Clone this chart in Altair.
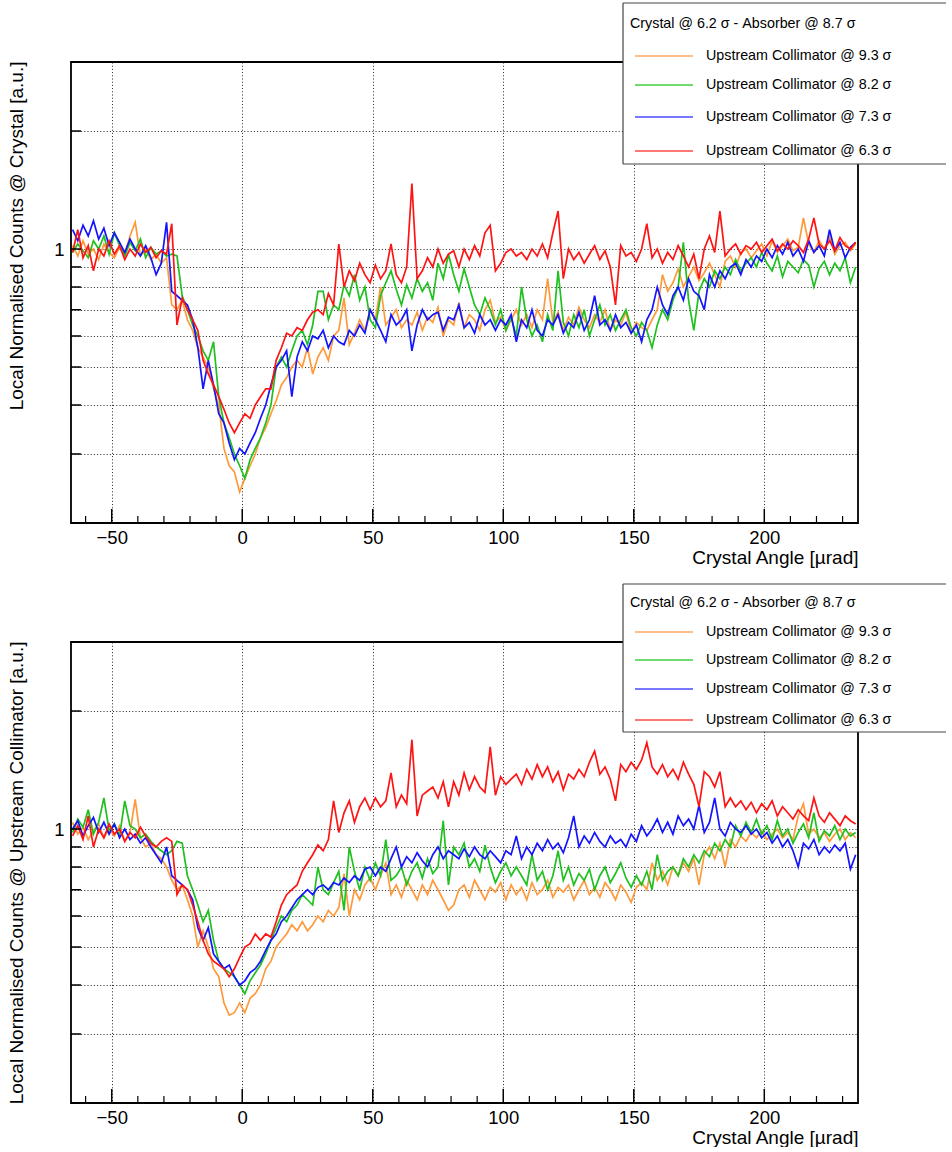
import altair as alt
import pandas as pd

# ---------------- data ----------------
angle = list(range(-65, 236, 2))  # crystal angle bin centres [urad]

series_names = [
    "Upstream Collimator @ 9.3 σ",
    "Upstream Collimator @ 8.2 σ",
    "Upstream Collimator @ 7.3 σ",
    "Upstream Collimator @ 6.3 σ",
]
line_colors = ["#ff9a3c", "#1fc01f", "#1414ff", "#ff1414"]
legend_colors = ["#ffaa60", "#40d040", "#4a4aff", "#ff4a4a"]
legend_header = "Crystal @ 6.2 σ - Absorber @ 8.7 σ"

x_major = [-50, 0, 50, 100, 150, 200]
x_minor = [-60, -40, -30, -20, -10, 10, 20, 30, 40, 60, 70, 80, 90, 110, 120, 130, 140,
           160, 170, 180, 190, 210, 220, 230]
y_grid = [0.3, 0.4, 0.5, 0.6, 0.7, 0.8, 0.9, 1, 2]

# ---- top panel: normalised to counts at crystal ----
p1_orange = (
    [1.02, 0.96, 1.05, 0.97, 1.00, 0.94, 1.03, 0.98, 0.95, 1.01, 0.97, 1.08, 1.17, 0.96, 1.00, 0.94, 0.97, 0.92, 0.95]
    + [0.72, 0.70, 0.74, 0.66, 0.62, 0.56, 0.53, 0.50, 0.44, 0.40, 0.31, 0.28, 0.27, 0.24, 0.26, 0.28, 0.30, 0.33, 0.35, 0.38, 0.41]
    + [0.45, 0.47, 0.50, 0.52, 0.50, 0.56, 0.48, 0.53, 0.56, 0.52, 0.60, 0.62, 0.75, 0.57, 0.61, 0.66, 0.62, 0.70, 0.66, 0.80, 0.64]
    + [0.67, 0.70, 0.63, 0.66, 0.64, 0.69, 0.62, 0.67, 0.65, 0.71, 0.60, 0.66, 0.64, 0.73, 0.63, 0.68, 0.66, 0.62, 0.70, 0.74, 0.65, 0.67, 0.62, 0.66, 0.70]
    + [0.64, 0.68, 0.63, 0.70, 0.66, 0.84, 0.65, 0.69, 0.62, 0.67, 0.64, 0.71, 0.66, 0.63, 0.68, 0.65, 0.70, 0.62, 0.66, 0.64, 0.69, 0.61, 0.65, 0.63, 0.62]
    + [0.66, 0.70, 0.86, 0.78, 0.82, 0.89, 0.80, 0.85, 0.90, 0.83, 0.87, 0.92, 0.86, 0.80, 0.93, 0.96, 0.90, 0.98, 1.00, 0.95]
    + [0.99, 1.03, 0.96, 1.05, 0.98, 1.02, 1.06, 0.99, 1.01, 1.20, 1.03, 0.98, 1.05, 1.00, 1.08, 0.97, 1.02, 1.04, 0.99, 1.03]
)
p1_green = (
    [0.98, 1.03, 0.99, 0.95, 1.05, 1.00, 1.08, 0.97, 1.10, 1.02, 0.96, 1.04, 0.99, 1.06, 0.95, 1.01, 0.97, 0.99, 0.96]
    + [0.97, 0.96, 0.76, 0.70, 0.64, 0.60, 0.55, 0.52, 0.58, 0.42, 0.36, 0.33, 0.30, 0.28, 0.26, 0.29, 0.31, 0.33, 0.36, 0.40, 0.50]
    + [0.53, 0.50, 0.55, 0.60, 0.62, 0.57, 0.64, 0.78, 0.78, 0.66, 0.72, 0.70, 0.81, 0.76, 0.86, 0.74, 0.80, 0.66, 0.63, 0.76, 0.82]
    + [0.88, 0.79, 0.72, 0.81, 0.75, 0.84, 0.78, 0.82, 0.74, 0.92, 0.84, 0.97, 0.86, 0.78, 0.89, 0.80, 0.72, 0.68, 0.75, 0.70, 0.64, 0.70, 0.62, 0.67, 0.60]
    + [0.80, 0.66, 0.60, 0.64, 0.58, 0.68, 0.62, 0.88, 0.65, 0.60, 0.68, 0.63, 0.70, 0.60, 0.66, 0.72, 0.64, 0.68, 0.62, 0.66, 0.70, 0.63, 0.60, 0.65, 0.62]
    + [0.56, 0.64, 0.70, 0.66, 0.74, 0.80, 1.04, 0.74, 0.62, 0.78, 0.84, 0.80, 0.88, 0.84, 0.90, 0.86, 0.94, 0.88, 0.92, 0.95]
    + [0.90, 0.98, 0.92, 0.88, 0.96, 0.85, 0.93, 0.90, 0.87, 0.94, 0.91, 0.80, 0.89, 0.93, 0.86, 0.92, 0.88, 0.95, 0.82, 0.90]
)
p1_blue = (
    [1.12, 1.05, 1.15, 1.08, 1.18, 1.06, 1.13, 1.02, 1.10, 1.04, 0.98, 1.06, 1.00, 0.96, 1.02, 0.95, 0.86, 0.92, 1.17]
    + [0.78, 0.76, 0.74, 0.72, 0.66, 0.56, 0.44, 0.52, 0.45, 0.38, 0.36, 0.32, 0.29, 0.31, 0.30, 0.32, 0.34, 0.37, 0.40, 0.45, 0.50]
    + [0.52, 0.55, 0.42, 0.53, 0.58, 0.55, 0.60, 0.59, 0.62, 0.56, 0.60, 0.58, 0.57, 0.62, 0.60, 0.64, 0.61, 0.70, 0.66, 0.62, 0.58]
    + [0.68, 0.64, 0.66, 0.70, 0.55, 0.64, 0.70, 0.66, 0.68, 0.69, 0.62, 0.67, 0.66, 0.72, 0.63, 0.65, 0.61, 0.68, 0.64, 0.66, 0.62, 0.66, 0.64, 0.68, 0.58]
    + [0.66, 0.63, 0.70, 0.62, 0.60, 0.66, 0.64, 0.68, 0.61, 0.65, 0.63, 0.69, 0.62, 0.66, 0.76, 0.64, 0.66, 0.62, 0.68, 0.63, 0.65, 0.61, 0.64, 0.58, 0.66]
    + [0.70, 0.80, 0.72, 0.68, 0.76, 0.80, 0.74, 0.84, 0.78, 0.76, 0.70, 0.86, 0.80, 0.88, 0.84, 0.90, 0.92, 0.86, 0.94, 0.90]
    + [0.96, 0.93, 1.00, 0.95, 1.02, 0.97, 1.04, 0.96, 1.00, 0.93, 1.05, 0.98, 1.02, 0.96, 1.12, 0.99, 1.04, 0.95, 1.01, 1.04]
)
p1_red = (
    [0.98, 1.12, 0.95, 1.02, 0.88, 1.00, 0.96, 1.05, 0.97, 1.02, 0.94, 1.00, 0.96, 1.03, 0.98, 1.01, 0.95, 0.99, 0.97]
    + [1.16, 0.64, 0.75, 0.70, 0.66, 0.62, 0.52, 0.48, 0.45, 0.42, 0.39, 0.36, 0.34, 0.36, 0.38, 0.37, 0.40, 0.42, 0.44, 0.44, 0.52]
    + [0.56, 0.61, 0.60, 0.63, 0.62, 0.66, 0.69, 0.70, 0.68, 0.77, 0.72, 1.03, 0.80, 0.88, 0.83, 0.92, 0.86, 0.82, 0.91, 0.84, 0.88]
    + [1.03, 0.86, 0.82, 0.90, 1.47, 0.84, 0.88, 0.95, 0.90, 1.00, 0.92, 0.97, 0.99, 0.90, 1.00, 0.94, 1.02, 0.96, 1.10, 1.15, 0.88, 0.92, 0.98, 1.00, 0.96]
    + [0.98, 0.94, 1.00, 0.96, 1.03, 0.95, 1.10, 1.25, 0.84, 1.00, 0.94, 0.98, 0.92, 0.97, 1.02, 0.94, 0.99, 0.90, 0.72, 1.02, 0.96, 0.98, 0.93, 1.00, 1.16]
    + [0.95, 1.00, 0.92, 0.98, 0.94, 1.02, 0.96, 0.90, 0.97, 0.84, 1.00, 1.08, 0.98, 1.25, 0.96, 1.00, 1.03, 0.97, 1.02, 1.00]
    + [1.04, 0.98, 1.02, 1.06, 0.99, 1.03, 1.00, 1.05, 1.02, 0.98, 1.06, 1.20, 1.03, 1.00, 1.05, 0.99, 1.07, 1.02, 1.00, 1.04]
)

# ---- bottom panel: normalised to counts at upstream collimator ----
p2_orange = (
    [1.04, 0.97, 1.01, 0.94, 0.99, 1.03, 0.95, 1.00, 0.96, 1.02, 0.93, 0.98, 1.19, 0.95, 0.90, 0.92, 0.86, 0.84, 0.80]
    + [0.74, 0.70, 0.72, 0.66, 0.60, 0.50, 0.55, 0.50, 0.44, 0.42, 0.36, 0.335, 0.34, 0.36, 0.34, 0.37, 0.38, 0.40, 0.44, 0.46, 0.50]
    + [0.52, 0.54, 0.57, 0.55, 0.58, 0.55, 0.57, 0.60, 0.58, 0.62, 0.60, 0.63, 0.77, 0.60, 0.70, 0.66, 0.72, 0.75, 0.70, 0.76, 0.82]
    + [0.68, 0.72, 0.67, 0.74, 0.70, 0.66, 0.72, 0.68, 0.74, 0.70, 0.66, 0.62, 0.64, 0.70, 0.72, 0.67, 0.74, 0.70, 0.66, 0.71, 0.69, 0.73, 0.66, 0.72, 0.68]
    + [0.71, 0.66, 0.73, 0.68, 0.70, 0.74, 0.67, 0.71, 0.69, 0.72, 0.66, 0.70, 0.74, 0.68, 0.71, 0.67, 0.73, 0.70, 0.66, 0.72, 0.69, 0.65, 0.71, 0.73, 0.70]
    + [0.82, 0.74, 0.78, 0.72, 0.80, 0.76, 0.82, 0.78, 0.84, 0.72, 0.86, 0.90, 0.84, 0.92, 0.80, 0.94, 0.90, 0.96, 0.93, 0.98]
    + [0.95, 0.99, 0.94, 0.97, 1.00, 0.95, 0.98, 0.94, 1.08, 1.16, 0.97, 1.00, 0.95, 0.98, 0.93, 0.97, 1.00, 0.94, 0.98, 0.95]
)
p2_green = (
    [0.98, 1.06, 1.01, 1.12, 0.97, 1.04, 1.20, 0.99, 1.03, 0.96, 1.18, 1.02, 1.00, 0.95, 0.97, 0.93, 0.90, 0.88, 0.86]
    + [0.88, 0.93, 0.92, 0.76, 0.70, 0.64, 0.58, 0.62, 0.52, 0.46, 0.44, 0.43, 0.42, 0.40, 0.38, 0.41, 0.43, 0.45, 0.48, 0.52, 0.56]
    + [0.60, 0.58, 0.62, 0.64, 0.68, 0.66, 0.64, 0.80, 0.70, 0.68, 0.73, 0.78, 0.62, 0.90, 0.78, 0.70, 0.80, 0.74, 0.82, 0.76, 0.94]
    + [0.74, 0.76, 0.80, 0.72, 0.78, 0.82, 0.75, 0.84, 0.77, 0.80, 1.05, 0.72, 0.90, 0.86, 0.92, 0.80, 0.84, 0.78, 0.91, 0.80, 0.73, 0.78, 0.82, 0.76, 0.80]
    + [0.76, 0.72, 0.86, 0.74, 0.78, 0.70, 0.76, 0.88, 0.74, 0.80, 0.72, 0.77, 0.74, 0.79, 0.70, 0.76, 0.80, 0.73, 0.77, 0.82, 0.75, 0.71, 0.76, 0.72, 0.78]
    + [0.70, 0.86, 0.74, 0.78, 0.80, 0.76, 0.84, 0.80, 0.86, 0.82, 0.88, 0.85, 0.92, 0.88, 0.94, 0.90, 1.02, 0.96, 1.04, 0.98]
    + [1.06, 0.97, 1.02, 0.94, 1.05, 0.96, 1.00, 0.92, 0.98, 1.03, 0.95, 1.10, 0.93, 0.99, 0.96, 1.02, 0.94, 1.00, 0.96, 0.98]
)
p2_blue = (
    [1.00, 1.05, 0.96, 1.02, 1.07, 0.98, 1.04, 0.97, 1.03, 0.95, 1.00, 0.94, 0.97, 0.92, 0.95, 0.90, 0.86, 0.82, 0.90]
    + [0.76, 0.74, 0.72, 0.70, 0.66, 0.56, 0.52, 0.56, 0.48, 0.46, 0.44, 0.45, 0.42, 0.40, 0.41, 0.43, 0.44, 0.46, 0.49, 0.52, 0.54]
    + [0.58, 0.60, 0.63, 0.66, 0.68, 0.70, 0.68, 0.71, 0.72, 0.70, 0.73, 0.72, 0.75, 0.73, 0.76, 0.74, 0.79, 0.80, 0.76, 0.80, 0.78]
    + [0.84, 0.90, 0.80, 0.85, 0.82, 0.87, 0.83, 0.80, 0.86, 0.90, 0.84, 0.88, 0.86, 0.84, 0.89, 0.85, 0.90, 0.86, 0.84, 0.88, 0.85, 0.82, 0.88, 0.86, 0.96]
    + [0.84, 0.90, 0.86, 0.92, 0.88, 0.94, 0.89, 0.92, 0.87, 0.95, 1.08, 0.90, 0.96, 0.92, 0.98, 0.93, 0.90, 0.96, 0.92, 0.94, 0.90, 0.97, 0.93, 1.02, 0.96]
    + [1.00, 1.06, 0.98, 1.04, 0.97, 1.08, 1.02, 1.06, 1.00, 1.15, 0.98, 1.04, 1.20, 1.00, 0.96, 1.04, 1.00, 0.98, 1.02, 0.97]
    + [1.00, 0.95, 0.98, 0.92, 0.96, 0.90, 0.94, 0.88, 0.80, 0.92, 0.89, 0.94, 0.86, 0.90, 0.87, 0.91, 0.88, 0.92, 0.79, 0.86]
)
p2_red = (
    [0.96, 1.02, 0.94, 1.08, 0.90, 1.00, 0.95, 1.03, 0.97, 1.00, 0.93, 0.98, 0.95, 1.01, 0.96, 0.92, 0.90, 0.93, 0.95]
    + [0.93, 0.68, 0.72, 0.70, 0.64, 0.58, 0.52, 0.48, 0.46, 0.45, 0.44, 0.42, 0.44, 0.47, 0.50, 0.51, 0.54, 0.52, 0.54, 0.53, 0.58]
    + [0.64, 0.68, 0.70, 0.72, 0.78, 0.82, 0.86, 0.91, 0.88, 0.94, 1.18, 0.98, 1.10, 1.18, 1.04, 1.14, 1.20, 1.12, 1.20, 1.14, 1.18]
    + [1.39, 1.14, 1.22, 1.16, 1.69, 1.08, 1.22, 1.25, 1.28, 1.20, 1.32, 1.14, 1.32, 1.22, 1.39, 1.26, 1.36, 1.28, 1.24, 1.62, 1.22, 1.36, 1.30, 1.34, 1.38]
    + [1.30, 1.42, 1.34, 1.46, 1.36, 1.44, 1.32, 1.40, 1.26, 1.38, 1.34, 1.42, 1.36, 1.48, 1.58, 1.38, 1.44, 1.34, 1.18, 1.46, 1.40, 1.48, 1.42, 1.50, 1.66]
    + [1.44, 1.38, 1.46, 1.36, 1.42, 1.34, 1.48, 1.38, 1.30, 1.14, 1.40, 1.36, 1.28, 1.40, 1.14, 1.20, 1.14, 1.18, 1.12, 1.17]
    + [1.10, 1.16, 1.12, 1.18, 1.08, 1.14, 1.10, 1.06, 1.12, 1.08, 1.05, 1.20, 1.08, 1.04, 1.10, 1.06, 1.02, 1.08, 1.05, 1.03]
)

panel1_series = [p1_orange, p1_green, p1_blue, p1_red]
panel2_series = [p2_orange, p2_green, p2_blue, p2_red]
for s in panel1_series + panel2_series:
    assert len(s) == len(angle), len(s)


def long_table(series_list):
    rows = []
    for name, vals in zip(series_names, series_list):
        for a, v in zip(angle, vals):
            rows.append({"angle": a, "value": v, "series": name})
    return pd.DataFrame(rows)


# ---------------- layout / style ----------------
W, H = 787, 461
FONT = "Liberation Sans"
XS = alt.Scale(domain=[-65.6, 235.9], nice=False, zero=False)
YS = alt.Scale(type="log", domain=[0.2, 3], nice=False)
one = pd.DataFrame({"k": [0]})
BOX_L, BOX_R = 552, 875


def panel(series_list, ytitle, leg):
    df = long_table(series_list)
    x_axis = alt.Axis(
        values=x_major, grid=True, gridDash=[1, 2.2], gridColor="#222", gridWidth=1,
        domain=False, ticks=False, tickSize=0, labelFontSize=18.5, labelPadding=5,
        labelColor="black", labelOverlap=False, labelFlush=False,
        title="Crystal Angle [µrad]", titleFontSize=19, titleFontWeight="normal",
        titleColor="black", titleX=W, titleY=25, titleAlign="right", titleBaseline="top",
    )
    y_axis = alt.Axis(
        values=y_grid, grid=True, gridDash=[1, 2.2], gridColor="#222", gridWidth=1,
        domain=False, ticks=False, tickSize=0, labelFontSize=18.5, labelPadding=7,
        labelColor="black", labelOverlap=False, labelFlush=False,
        labelExpr="datum.value == 1 ? '1' : ''",
        title=ytitle, titleFontSize=19, titleFontWeight="normal", titleColor="black",
        titleX=-64, titleY=-1, titleAngle=-90, titleAlign="right", titleBaseline="top",
    )
    lines = alt.Chart(df).mark_line(strokeWidth=1.7, clip=True).encode(
        x=alt.X("angle:Q", scale=XS, axis=x_axis),
        y=alt.Y("value:Q", scale=YS, axis=y_axis),
        color=alt.Color("series:N", scale=alt.Scale(domain=series_names, range=line_colors), legend=None),
    )
    xt_major = alt.Chart(pd.DataFrame({"angle": x_major})).mark_rule(color="black", strokeWidth=1.5).encode(
        x=alt.X("angle:Q", scale=XS, axis=x_axis), y=alt.value(H), y2=alt.value(H - 14)
    )
    xt_minor = alt.Chart(pd.DataFrame({"angle": x_minor})).mark_rule(color="black", strokeWidth=1.2).encode(
        x=alt.X("angle:Q", scale=XS, axis=x_axis), y=alt.value(H), y2=alt.value(H - 7)
    )
    yt = alt.Chart(pd.DataFrame({"value": y_grid})).mark_rule(color="black", strokeWidth=1.5).encode(
        y=alt.Y("value:Q", scale=YS, axis=y_axis), x=alt.value(0), x2=alt.value(10)
    )
    frame = alt.Chart(one).mark_rect(fill="white", fillOpacity=0, stroke="black", strokeWidth=1.8).encode(
        x=alt.value(0), x2=alt.value(W), y=alt.value(0), y2=alt.value(H)
    )
    top, bottom, hy, ey = leg
    box = alt.Chart(one).mark_rect(fill="white", strokeWidth=0).encode(
        x=alt.value(BOX_L), x2=alt.value(BOX_R), y=alt.value(top), y2=alt.value(bottom)
    )
    edges = [
        alt.Chart(one).mark_rule(color="#444", strokeWidth=1.2).encode(
            x=alt.value(BOX_L), x2=alt.value(BOX_R), y=alt.value(top)),
        alt.Chart(one).mark_rule(color="#444", strokeWidth=1.2).encode(
            x=alt.value(BOX_L), x2=alt.value(BOX_R), y=alt.value(bottom)),
        alt.Chart(one).mark_rule(color="#444", strokeWidth=1.2).encode(
            x=alt.value(BOX_L), y=alt.value(top), y2=alt.value(bottom)),
    ]
    header = alt.Chart(one).mark_text(
        text=legend_header, align="left", baseline="middle", fontSize=14.3, color="black", font=FONT
    ).encode(x=alt.value(559), y=alt.value(hy))
    items = []
    for name, col, yy in zip(series_names, legend_colors, ey):
        items.append(
            alt.Chart(one).mark_rule(color=col, strokeWidth=1.5).encode(
                x=alt.value(564), x2=alt.value(622), y=alt.value(yy)
            )
        )
        items.append(
            alt.Chart(one).mark_text(
                text=name, align="left", baseline="middle", fontSize=14.3, color="black", font=FONT
            ).encode(x=alt.value(635), y=alt.value(yy))
        )
    return alt.layer(lines, xt_major, xt_minor, yt, frame, box, *edges, header, *items).properties(
        width=W, height=H)


top_panel = panel(panel1_series, "Local Normalised Counts @ Crystal [a.u.]",
                  (-59, 102, -38, [-6, 23, 55, 89]))
bottom_panel = panel(panel2_series, "Local Normalised Counts @ Upstream Collimator [a.u.]",
                     (-58, 90, -39, [-10, 18, 47, 78]))

chart = alt.vconcat(top_panel, bottom_panel, spacing=16).properties(
    padding={"left": 6, "top": 2, "right": 0, "bottom": 0}
).configure(font=FONT).configure_view(stroke=None)

chart.save("out.html", embed_options={"renderer": "svg", "actions": False})
